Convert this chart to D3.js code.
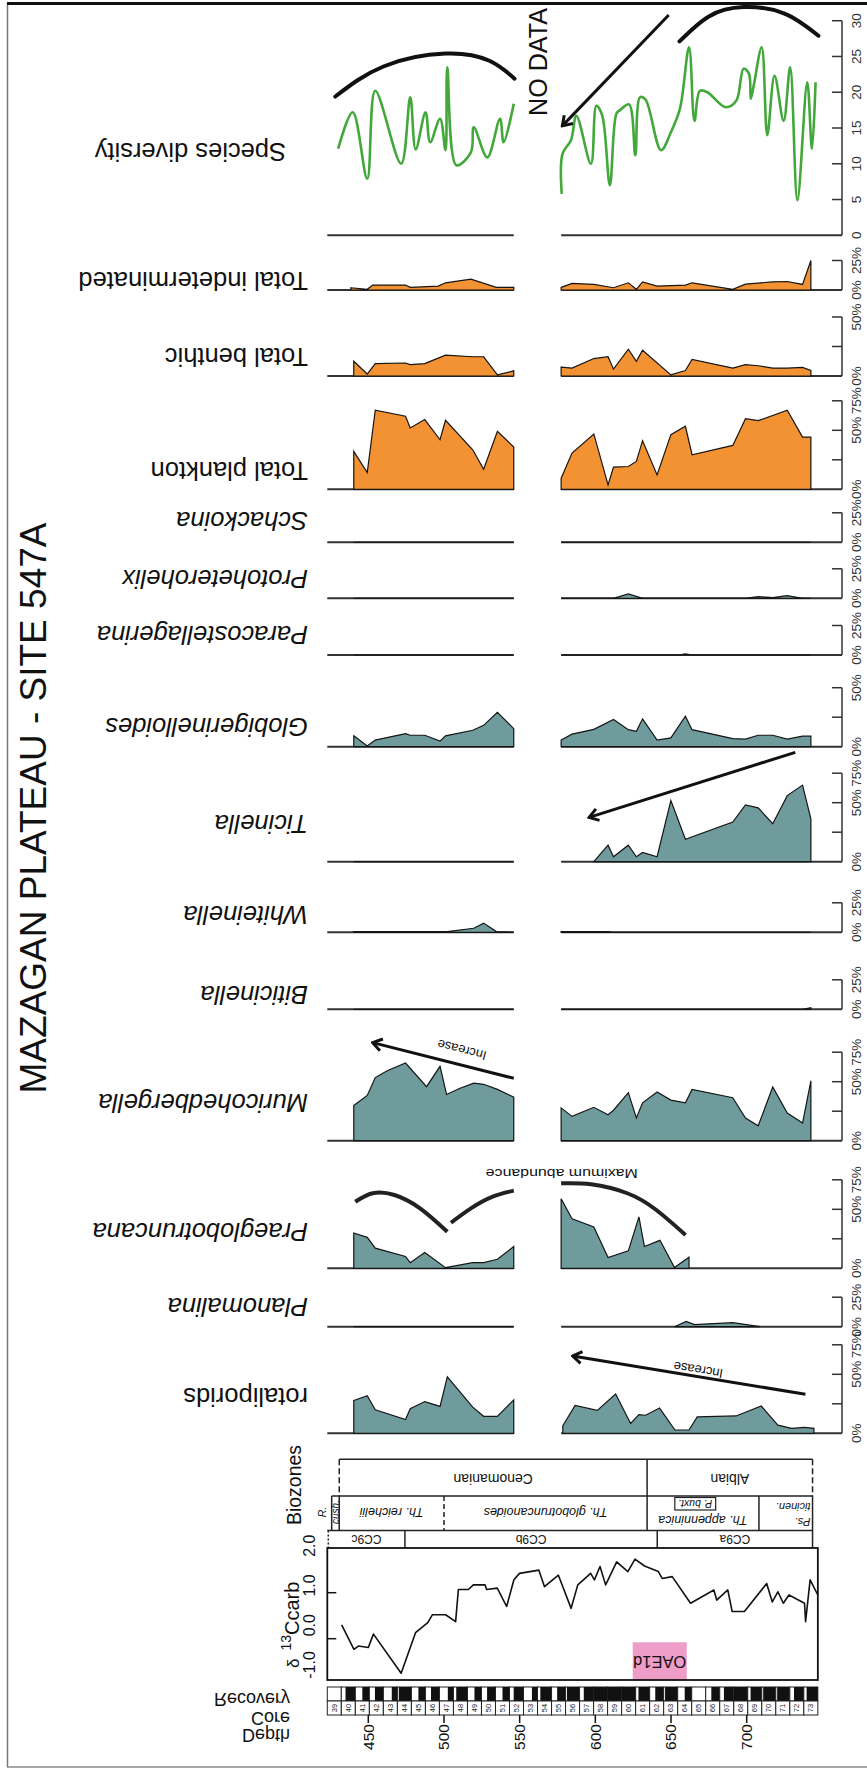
<!DOCTYPE html>
<html>
<head>
<meta charset="utf-8">
<script src="https://cdn.jsdelivr.net/npm/d3@7"></script>
<style>
  html, body { margin: 0; padding: 0; background: #fff; }
  svg { display: block; font-family: "Liberation Sans", Arial, Helvetica, sans-serif; }
</style>
</head>
<body>
<svg id="chart" width="867" height="1769"></svg>
<script>
// ---------- Depth samples (m) and values ----------
const depthTicks = [450, 500, 550, 600, 650, 700];

// species counts
const speciesLeft = [[430.1,12.1],[439.7,17.2],[449.3,7.9],[454.6,20.2],[471.7,10.0],[477.7,19.3],[481.3,12.0],[487.8,17.2],[490.9,13.0],[497.4,16.3],[501.0,11.9],[502.2,23.5],[508.2,9.8],[517.8,11.6],[519.7,15.1],[528.6,10.9],[537.0,16.3],[539.4,13.0],[546.1,18.4]];
const speciesRight = [[577.8,5.8],[578.3,11.4],[583.9,13.3],[587.5,16.7],[597.1,10.0],[600.7,18.1],[604.5,16.8],[609.6,7.0],[613.9,17.0],[616.3,17.5],[622.3,18.3],[626.4,11.2],[629.5,19.3],[633.1,19.0],[643.4,11.9],[649.9,14.4],[655.9,17.7],[661.9,26.3],[665.5,16.0],[669.1,20.2],[674.0,20.0],[686.0,17.9],[693.1,18.8],[697.9,23.3],[701.5,22.6],[702.7,19.1],[704.7,21.0],[709.9,26.3],[713.6,14.0],[718.4,22.3],[724.4,16.0],[728.7,23.5],[733.5,4.9],[740.0,21.4],[743.1,12.1],[745.5,21.4]];

// percentages
const indetLeft = [[438.5,1.9],[449.3,0.6],[452.9,4.2],[474.6,4.2],[477.7,2.2],[496.2,3.3],[501.0,6.1],[517.8,9.2],[534.6,2.2],[546.1,2.2]];
const indetRight = [[577.4,2.2],[584.6,5.6],[599.0,4.7],[612.0,1.9],[621.8,6.1],[627.1,0.6],[631.2,6.9],[640.8,3.3],[659.5,4.2],[663.9,6.1],[690.8,0.6],[699.2,5.0],[717.2,6.9],[726.8,7.2],[736.9,4.7],[742.4,25.0]];

const benthicLeft = [[440.4,12.5],[449.3,1.7],[454.6,10.5],[474.6,11.0],[477.7,9.6],[487.3,10.5],[501.0,17.7],[519.0,16.3],[526.2,16.3],[535.3,0.9],[546.1,4.4]];
const benthicRight = [[577.4,7.6],[584.6,6.7],[599.0,14.8],[608.4,16.3],[612.0,5.8],[621.8,22.7],[627.1,12.5],[631.2,21.8],[649.9,0.9],[659.5,4.7],[663.9,14.0],[690.8,6.7],[699.2,9.6],[707.6,8.7],[717.2,6.7],[726.8,6.7],[736.9,7.3],[742.4,4.7]];

const planktonLeft = [[440.4,32.1],[449.3,14.2],[454.6,67.0],[474.6,61.9],[477.7,52.0],[487.3,59.1],[497.4,42.0],[501.0,58.5],[519.0,33.5],[526.2,17.0],[535.3,49.1],[546.1,35.8]];
const planktonRight = [[577.4,9.4],[584.6,30.7],[599.0,46.9],[608.4,3.7],[612.0,18.8],[621.8,19.3],[627.1,23.6],[631.2,41.2],[640.8,12.2],[649.9,46.3],[659.5,53.4],[663.9,29.3],[690.8,37.2],[699.2,59.9],[707.6,58.2],[726.8,67.0],[736.9,44.3],[742.4,44.3]];

const schackoinaLeft = [[440.4,0],[546.1,0]];
const schackoinaRight = [[577.4,0],[742.4,0]];

const protoLeft = [[440.4,0],[546.1,0]];
const protoRight = [[577.4,0],[612.0,0],[621.8,3.7],[631.2,0],[699.2,0],[707.6,1.4],[717.2,0.6],[726.8,2.3],[736.9,0],[742.4,0]];

const paracostLeft = [[440.4,0],[546.1,0]];
const paracostRight = [[577.4,0],[655.0,0],[659.5,1.0],[664.0,0],[742.4,0]];

const globigLeft = [[440.4,9.2],[449.3,0.6],[454.6,5.6],[474.6,11.1],[477.7,9.7],[487.3,9.7],[497.4,4.7],[501.0,9.2],[519.0,13.9],[526.2,18.1],[535.3,29.2],[546.1,15.3]];
const globigRight = [[577.4,5.6],[584.6,10.6],[599.0,14.7],[612.0,23.1],[621.8,14.4],[627.1,13.1],[631.2,23.6],[640.8,5.6],[649.9,7.5],[659.5,25.8],[663.9,14.4],[690.8,6.9],[699.2,6.4],[707.6,9.7],[717.2,9.7],[726.8,6.4],[736.9,8.9],[742.4,8.9]];

const ticinellaLeft = [[440.4,0],[546.1,0]];
const ticinellaRight = [[599.0,0],[608.4,14.0],[612.0,4.2],[621.8,14.0],[627.1,4.2],[631.2,7.8],[640.8,4.2],[649.9,51.8],[659.5,19.0],[690.8,33.6],[699.2,48.1],[707.6,45.6],[717.2,32.2],[726.8,56.0],[736.9,64.9],[742.4,36.4]];

const whiteLeft = [[440.4,0.5],[502.2,0.6],[519.7,3.4],[526.2,7.8],[534.6,0.6],[546.1,0]];
const whiteRight = [[577.4,0.6],[609.1,0.5],[611.0,0],[742.4,0]];

const biticLeft = [[440.4,0],[546.1,0]];
const biticRight = [[577.4,0],[736.9,0],[742.4,1.4]];

const muricoLeft = [[440.4,29.8],[449.3,38.4],[454.6,53.5],[462.5,59.3],[474.6,65.8],[488.5,45.8],[497.4,63.0],[501.7,39.2],[510.6,44.4],[519.7,48.7],[526.2,47.8],[535.3,43.5],[546.1,36.9]];
const muricoRight = [[577.4,27.8],[584.6,20.6],[599.0,28.3],[608.4,22.0],[612.0,25.8],[621.8,40.7],[627.1,19.2],[631.2,32.1],[640.8,41.2],[649.9,34.4],[659.5,32.1],[663.9,43.5],[690.8,36.4],[699.2,19.2],[707.6,12.6],[717.2,45.5],[726.8,23.5],[736.9,14.9],[742.4,50.7]];

const praeglobLeft = [[440.4,29.9],[449.3,26.2],[454.6,17.1],[474.6,10.0],[477.7,4.8],[487.3,13.4],[501.0,0.5],[519.0,4.8],[526.2,4.8],[535.3,7.7],[546.1,18.5]];
const praeglobRight = [[577.4,59.0],[584.6,41.9],[599.0,35.1],[608.4,9.1],[621.8,14.8],[628.8,43.6],[632.4,18.5],[642.7,23.7],[652.3,0.6],[661.9,9.4]];

const planomLeft = [[440.4,0],[546.1,0]];
const planomRight = [[652.3,0],[660.0,4.5],[665.5,1.8],[690.8,3.4],[708.8,0]];

const rotalLeft = [[440.4,27.8],[449.3,31.9],[454.6,20.0],[474.6,11.7],[477.7,20.8],[487.3,26.9],[497.4,22.8],[502.2,47.8],[519.0,22.2],[526.2,14.4],[535.3,14.4],[546.1,28.3]];
const rotalRight = [[578.5,6.4],[586.6,23.6],[601.3,19.4],[613.4,33.3],[623.3,8.3],[628.8,15.8],[633.2,15.3],[642.4,21.4],[652.6,2.8],[661.9,2.8],[667.3,13.9],[693.0,14.7],[709.6,23.1],[720.6,6.9],[729.7,4.2],[738.2,5.0],[744.4,4.2]];

// carbon isotopes (per mil)
const d13c = [[432.4,0.30],[440.5,-0.23],[443.4,-0.16],[450.0,-0.19],[453.4,0.10],[471.7,-0.75],[481.2,0.13],[489.3,0.35],[492.3,0.52],[501.1,0.52],[507.7,0.37],[509.5,1.07],[516.1,1.07],[519.4,1.17],[527.1,1.17],[528.2,1.07],[535.2,1.10],[541.4,0.70],[546.2,1.28],[549.9,1.42],[562.7,1.49],[566.4,1.13],[575.6,1.38],[584.0,0.66],[588.4,1.17],[596.9,1.42],[599.4,1.28],[603.1,1.57],[606.8,1.17],[614.1,1.67],[621.5,1.46],[626.2,1.73],[632.5,1.58],[641.6,1.46],[644.2,1.31],[650.8,1.35],[662.9,0.77],[678.3,1.06],[680.2,0.84],[687.5,1.06],[690.4,0.59],[698.5,0.59],[713.2,1.20],[716.9,0.80],[720.6,1.02],[724.2,0.77],[727.9,0.95],[738.2,0.77],[738.9,0.37],[741.9,1.28],[747.0,0.95]];
const d13cTicks = [-1, 0, 1, 2];

// cores and recovered fraction of each core
const coreNumbers = d3.range(39, 74);
const coreRecovery = [0.0,0.7,0.5,0.6,0.4,0.9,0.5,0.6,0.4,0.8,0.5,0.6,0.5,0.7,0.4,0.8,0.6,0.9,0.7,1.0,1.0,1.0,0.8,0.6,0.9,0.5,0.0,0.6,0.7,1.0,0.8,0.9,0.9,0.7,0.8];

// stratigraphic intervals (m)
const stages = [{name:"Cenomanian", top:430.8, base:634.2}, {name:"Albian", top:634.2, base:743.5}];
const zones = [{name:"Th. reichelii", top:430.8, base:500.0}, {name:"Th. globotruncanoides", top:500.0, base:634.2}, {name:"Th. appenninica", top:634.2, base:708.1}, {name:"ticinen.", top:708.1, base:743.5}];
const nannoZones = [{name:"CC9c", top:423.4, base:474.2}, {name:"CC9b", top:474.2, base:640.9}, {name:"CC9a", top:640.9, base:743.5}];
const oae = {name:"OAE1d", top:624.7, base:660.4};

// ---------- layout ----------
const svg = d3.select("#chart");
const x = d3.scaleLinear().domain([450, 700]).range([368.3, 746.7]);
const plotX0 = 327.3, gapX0 = x(546.1), gapX1 = x(577.4), axisX = 842;
const pctPx = 29.5 / 25;
const teal = "#6f9b9d", orange = "#f29232", green = "#42a83a";

const rows = [
  {name:"Species diversity", left:speciesLeft, right:speciesRight, line:true, max:30, ticks:[0,5,10,15,20,25,30], unit:"", base:235.3, ppu:7.153, labelY:152, labelX:286},
  {name:"Total indeterminated", left:indetLeft, right:indetRight, fill:orange, max:25, base:290, labelY:281},
  {name:"Total benthic", left:benthicLeft, right:benthicRight, fill:orange, max:50, base:376, labelY:357},
  {name:"Total plankton", left:planktonLeft, right:planktonRight, fill:orange, max:75, base:489.3, labelY:471},
  {name:"Schackoina", left:schackoinaLeft, right:schackoinaRight, fill:teal, max:25, base:542.3, labelY:521, italic:true},
  {name:"Protoheterohelix", left:protoLeft, right:protoRight, fill:teal, max:25, base:598.3, labelY:579, italic:true},
  {name:"Paracostellagerina", left:paracostLeft, right:paracostRight, fill:teal, max:25, base:655, labelY:635, italic:true},
  {name:"Globigerinelloides", left:globigLeft, right:globigRight, fill:teal, max:50, base:746.7, labelY:727, italic:true},
  {name:"Ticinella", left:ticinellaLeft, right:ticinellaRight, fill:teal, max:75, base:861.7, labelY:824, italic:true},
  {name:"Whiteinella", left:whiteLeft, right:whiteRight, fill:teal, max:25, base:932.3, labelY:915, italic:true},
  {name:"Biticinella", left:biticLeft, right:biticRight, fill:teal, max:25, base:1009.3, labelY:995, italic:true},
  {name:"Muricohedbergella", left:muricoLeft, right:muricoRight, fill:teal, max:75, base:1140.7, labelY:1103, italic:true},
  {name:"Praeglobotruncana", left:praeglobLeft, right:praeglobRight, fill:teal, max:75, base:1268.3, labelY:1232, italic:true},
  {name:"Planomalina", left:planomLeft, right:planomRight, fill:teal, max:25, base:1326.7, labelY:1307, italic:true},
  {name:"rotaliporids", left:rotalLeft, right:rotalRight, fill:teal, max:75, base:1433.3, labelY:1397}
];
rows.forEach(r => {
  const ppu = r.ppu || pctPx;
  r.y = d3.scaleLinear().domain([0, r.max]).range([r.base, r.base - r.max * ppu]);
  if (!r.ticks) r.ticks = r.max === 25 ? [0,25] : r.max === 50 ? [0,50] : [0,50,75];
  if (r.unit === undefined) r.unit = "%";
});
const byName = n => rows.find(r => r.name === n);

// ---------- frame ----------
svg.append("line").attr("x1", 7.5).attr("x2", 7.5).attr("y1", 3).attr("y2", 1767).attr("stroke", "#777").attr("stroke-width", 1.5);
svg.append("line").attr("x1", 7).attr("x2", 867).attr("y1", 3.5).attr("y2", 3.5).attr("stroke", "#111").attr("stroke-width", 3);
svg.append("line").attr("x1", 7).attr("x2", 867).attr("y1", 1767).attr("y2", 1767).attr("stroke", "#888").attr("stroke-width", 1.5);

// title
svg.append("text").attr("transform", "translate(33,808) rotate(-90)")
  .attr("text-anchor", "middle").attr("dy", "0.35em")
  .style("font-size", "37px").attr("fill", "#111")
  .text("MAZAGAN PLATEAU - SITE 547A");

// arrow marker
const defs = svg.append("defs");
defs.append("marker").attr("id", "chev").attr("viewBox", "-12 -8 14 16")
  .attr("refX", 0).attr("refY", 0).attr("markerWidth", 14).attr("markerHeight", 16)
  .attr("markerUnits", "userSpaceOnUse").attr("orient", "auto")
  .append("path").attr("d", "M-9,-6 L0,0 L-9,6").attr("fill", "none")
  .attr("stroke", "#111").attr("stroke-width", 3).attr("stroke-linejoin", "miter");

// ---------- panels ----------
const g = svg.append("g");
rows.forEach(r => {
  // baselines
  g.append("line").attr("x1", plotX0).attr("x2", gapX0).attr("y1", r.base).attr("y2", r.base)
    .attr("stroke", "#333").attr("stroke-width", 2);
  g.append("line").attr("x1", gapX1).attr("x2", axisX).attr("y1", r.base).attr("y2", r.base)
    .attr("stroke", "#333").attr("stroke-width", 2);

  [r.left, r.right].forEach(seg => {
    if (r.line) {
      g.append("path").datum(seg)
        .attr("d", d3.line().x(d => x(d[0])).y(d => r.y(d[1])).curve(d3.curveCatmullRom.alpha(0.5)))
        .attr("fill", "none").attr("stroke", green).attr("stroke-width", 2.6).attr("stroke-linejoin", "round");
    } else {
      g.append("path").datum(seg)
        .attr("d", d3.area().x(d => x(d[0])).y0(r.base).y1(d => r.y(d[1])))
        .attr("fill", r.fill).attr("stroke", "#151515").attr("stroke-width", 1.2).attr("stroke-linejoin", "miter");
    }
  });

  // right-hand value axis
  const yTop = r.y(r.max);
  g.append("line").attr("x1", axisX).attr("x2", axisX).attr("y1", yTop).attr("y2", r.base)
    .attr("stroke", "#333").attr("stroke-width", 1.5);
  const step = r.line ? 5 : 25;
  d3.range(step, r.max + 0.01, step).forEach(v => {
    g.append("line").attr("x1", axisX - 10).attr("x2", axisX).attr("y1", r.y(v)).attr("y2", r.y(v))
      .attr("stroke", "#333").attr("stroke-width", 1.5);
  });
  r.ticks.forEach(v => {
    g.append("text").attr("transform", `translate(856,${r.y(v)}) rotate(-90)`)
      .attr("text-anchor", "middle").attr("dy", "0.35em")
      .style("font-size", "13.5px").attr("fill", "#333")
      .text(v + r.unit);
  });

  // row label (upside down)
  g.append("text").attr("transform", `translate(${r.labelX || 308},${r.labelY}) rotate(180)`)
    .attr("text-anchor", "start").attr("dy", "0.35em")
    .style("font-size", "25.5px").style("font-style", r.italic ? "italic" : "normal")
    .attr("fill", "#111").text(r.name);
});

// ---------- annotations ----------
const arcLine = (r) => d3.line().x(d => x(d[0])).y(d => r.y(d[1])).curve(d3.curveNatural);
const spR = byName("Species diversity");
[[[428.2,19.4],[460,23.6],[501,25.4],[530,24.4],[546.6,21.9]],
 [[655.6,27.1],[675,30.6],[698,31.9],[725,31.0],[747.4,27.9]]].forEach(a => {
  g.append("path").datum(a).attr("d", arcLine(spR)).attr("fill", "none").attr("stroke", "#111").attr("stroke-width", 4).attr("stroke-linecap", "round");
});
const arrow = (r, from, to) => g.append("line")
  .attr("x1", x(from[0])).attr("y1", r.y(from[1])).attr("x2", x(to[0])).attr("y2", r.y(to[1]))
  .attr("stroke", "#111").attr("stroke-width", 3).attr("marker-end", "url(#chev)");
arrow(spR, [648.5, 30.8], [578.2, 15.3]);
g.append("text").attr("transform", `translate(538,62) rotate(-90)`)
  .attr("text-anchor", "middle").attr("dy", "0.35em").style("font-size", "26px").attr("fill", "#111")
  .attr("textLength", 108).attr("lengthAdjust", "spacingAndGlyphs").text("NO DATA");

arrow(byName("Ticinella"), [732.1, 92.7], [595.9, 37.6]);

const incr = (r, from, to, at) => {
  arrow(r, from, to);
  const ang = Math.atan2(r.y(to[1]) - r.y(from[1]), x(to[0]) - x(from[0])) * 180 / Math.PI;
  g.append("text").attr("transform", `translate(${x(at[0])},${r.y(at[1])}) rotate(${ang})`)
    .attr("text-anchor", "middle").attr("dy", "0.35em").style("font-size", "13px").attr("fill", "#111").text("Increase");
};
incr(byName("Muricohedbergella"), [546.1, 52.9], [452.9, 83.1], [511.8, 76.9]);
incr(byName("rotaliporids"), [738.8, 33.1], [585.0, 65.5], [668.0, 53.6]);

const prR = byName("Praeglobotruncana");
[[[441.4,56.4],[452.9,63.6],[467.3,62.1],[484.2,50.8],[502.2,31.0]],
 [[504.6,38.6],[517.8,50.8],[532.2,60.7],[546.1,65.8]],
 [[577.4,72.0],[597.1,71.2],[621.1,63.6],[640.3,49.4],[659.6,28.2]]].forEach(a => {
  g.append("path").datum(a).attr("d", arcLine(prR)).attr("fill", "none").attr("stroke", "#222").attr("stroke-width", 4);
});
g.append("text").attr("transform", `translate(${x(577.8)},${prR.y(80.5)}) rotate(180)`)
  .attr("text-anchor", "middle").attr("dy", "0.35em").style("font-size", "13px").attr("fill", "#111")
  .attr("textLength", 152).attr("lengthAdjust", "spacingAndGlyphs").text("Maximum abundance");

// ---------- biozones ----------
const bz = svg.append("g").attr("stroke", "#222").attr("stroke-width", 1.5);
const yStageTop = 1459.3, yZoneTop = 1496, yCCTop = 1530.5, yBoxTop = 1548, yBoxBot = 1680;
const zRight = x(743.5), zLeft = x(430.8), rcLeft = x(425.8);
bz.append("line").attr("x1", zLeft).attr("x2", zRight).attr("y1", yStageTop).attr("y2", yStageTop);
bz.append("line").attr("x1", zLeft).attr("x2", zRight).attr("y1", yZoneTop).attr("y2", yZoneTop);
bz.append("line").attr("x1", rcLeft).attr("x2", zLeft).attr("y1", yZoneTop).attr("y2", yZoneTop);
bz.append("line").attr("x1", plotX0).attr("x2", zRight).attr("y1", yCCTop).attr("y2", yCCTop);
// stage boundaries
bz.append("line").attr("x1", zLeft).attr("x2", zLeft).attr("y1", yStageTop).attr("y2", yZoneTop).attr("stroke-dasharray", "6,3");
bz.append("line").attr("x1", zRight).attr("x2", zRight).attr("y1", yStageTop).attr("y2", yZoneTop).attr("stroke-dasharray", "6,3");
bz.append("line").attr("x1", x(634.2)).attr("x2", x(634.2)).attr("y1", yStageTop).attr("y2", yCCTop);
// zone boundaries
bz.append("line").attr("x1", rcLeft).attr("x2", rcLeft).attr("y1", yZoneTop).attr("y2", yCCTop);
bz.append("line").attr("x1", zLeft).attr("x2", zLeft).attr("y1", yZoneTop).attr("y2", yCCTop);
bz.append("line").attr("x1", x(500)).attr("x2", x(500)).attr("y1", yZoneTop).attr("y2", yCCTop).attr("stroke-dasharray", "5,3");
bz.append("line").attr("x1", x(708.1)).attr("x2", x(708.1)).attr("y1", yZoneTop).attr("y2", yCCTop);
bz.append("line").attr("x1", zRight).attr("x2", zRight).attr("y1", yZoneTop).attr("y2", yBoxTop);
// nannofossil boundaries
bz.append("line").attr("x1", plotX0 + 1).attr("x2", plotX0 + 1).attr("y1", yCCTop).attr("y2", yBoxTop).attr("stroke-dasharray", "2,2");
nannoZones.slice(1).forEach(z => bz.append("line").attr("x1", x(z.top)).attr("x2", x(z.top)).attr("y1", yCCTop).attr("y2", yBoxTop));

const flipText = (cx, cy, txt, size, italic) => svg.append("text")
  .attr("transform", `translate(${cx},${cy}) rotate(180)`).attr("text-anchor", "middle").attr("dy", "0.35em")
  .style("font-size", size + "px").style("font-style", italic ? "italic" : "normal").attr("fill", "#111").text(txt);
stages.forEach(s => flipText(x((s.top + s.base) / 2), 1479, s.name, 14));
flipText(x(465.4), 1512, zones[0].name, 12.5, true);
flipText(x(567.1), 1512, zones[1].name, 12.5, true);
flipText(x(671), 1520.5, zones[2].name, 12.5, true);
// P. buxt. box
bz.append("rect").attr("x", x(652.5)).attr("y", 1497.5).attr("width", x(679.5) - x(652.5)).attr("height", 12.5).attr("fill", "none").attr("stroke-width", 1.2);
flipText(x(666), 1504, "P. buxt.", 10.5, true);
svg.append("text").attr("transform", `translate(${x(742.2)},1506.5) rotate(180)`).attr("dy", "0.35em")
  .style("font-size", "11px").style("font-style", "italic").attr("fill", "#111").text(zones[3].name);
svg.append("text").attr("transform", `translate(${x(742.2)},1521.5) rotate(180)`).attr("dy", "0.35em")
  .style("font-size", "11px").style("font-style", "italic").attr("fill", "#111").text("Ps.");
// R. cush.
svg.append("text").attr("transform", `translate(322,1512) rotate(-90)`).attr("text-anchor", "middle").attr("dy", "0.35em")
  .style("font-size", "10.5px").style("font-style", "italic").attr("fill", "#111").text("R.");
svg.append("text").attr("transform", `translate(${(rcLeft + zLeft) / 2},1512) rotate(-90)`).attr("text-anchor", "middle").attr("dy", "0.35em")
  .style("font-size", "10px").style("font-style", "italic").attr("fill", "#111").text("cush.");
nannoZones.forEach(z => flipText(x((z.top + z.base) / 2), 1539.3, z.name, 12, false));

svg.append("text").attr("transform", "translate(294,1485) rotate(-90)").attr("text-anchor", "middle").attr("dy", "0.35em")
  .style("font-size", "19.5px").attr("fill", "#111").text("Biozones");

// ---------- carbon isotope panel ----------
const yd = d3.scaleLinear().domain([0, 1]).range([1638.7, 1592.7]);
const ydLabel = d3.scaleLinear().domain([-1, 2]).range([1665, 1545.7]);
const boxRight = x(747);
svg.append("rect").attr("x", x(oae.top)).attr("y", 1642.3).attr("width", x(oae.base) - x(oae.top)).attr("height", yBoxBot - 1642.3).attr("fill", "#ee9dc9");
flipText(x((oae.top + oae.base) / 2), 1662, oae.name, 16.5, false);
svg.append("rect").attr("x", plotX0).attr("y", yBoxTop).attr("width", boxRight - plotX0).attr("height", yBoxBot - yBoxTop)
  .attr("fill", "none").attr("stroke", "#111").attr("stroke-width", 1.8);
svg.append("path").datum(d13c).attr("d", d3.line().x(d => x(d[0])).y(d => yd(d[1])))
  .attr("fill", "none").attr("stroke", "#111").attr("stroke-width", 1.6).attr("stroke-linejoin", "round");
[0, 1].forEach(v => svg.append("line").attr("x1", plotX0).attr("x2", plotX0 + 9).attr("y1", yd(v)).attr("y2", yd(v)).attr("stroke", "#111").attr("stroke-width", 1.5));
d13cTicks.forEach(v => svg.append("text").attr("transform", `translate(309,${ydLabel(v)}) rotate(-90)`)
  .attr("text-anchor", "middle").attr("dy", "0.35em").style("font-size", "16px").attr("fill", "#111").text(v.toFixed(1)));
const dl = svg.append("text").attr("transform", "translate(299,1668) rotate(-90)").attr("fill", "#111");
dl.append("tspan").style("font-size", "17px").text("δ");
dl.append("tspan").attr("dx", 8).attr("dy", -8).style("font-size", "14px").text("13");
dl.append("tspan").attr("dy", 8).style("font-size", "20px").text("Ccarb");

// ---------- core recovery ----------
const cores = d3.scaleBand().domain(coreNumbers).range([plotX0, boxRight]);
const yCoreTop = 1687, yCoreMid = 1701, yCoreBot = 1715;
coreNumbers.forEach((c, i) => {
  const cx = cores(c), w = cores.bandwidth();
  svg.append("rect").attr("x", cx).attr("y", yCoreTop).attr("width", w).attr("height", yCoreMid - yCoreTop).attr("fill", "#fff").attr("stroke", "#222").attr("stroke-width", 1);
  svg.append("rect").attr("x", cx + w * (1 - coreRecovery[i])).attr("y", yCoreTop).attr("width", w * coreRecovery[i]).attr("height", yCoreMid - yCoreTop).attr("fill", "#111");
  svg.append("rect").attr("x", cx).attr("y", yCoreMid).attr("width", w).attr("height", yCoreBot - yCoreMid).attr("fill", "#fff").attr("stroke", "#222").attr("stroke-width", 1);
  svg.append("text").attr("transform", `translate(${cx + w / 2},${(yCoreMid + yCoreBot) / 2}) rotate(-90)`)
    .attr("text-anchor", "middle").attr("dy", "0.35em").style("font-size", "7.5px").attr("fill", "#222").text(c);
});

// depth axis
depthTicks.forEach(d => {
  svg.append("line").attr("x1", x(d)).attr("x2", x(d)).attr("y1", yCoreBot).attr("y2", 1723).attr("stroke", "#111").attr("stroke-width", 1.5);
  svg.append("text").attr("transform", `translate(${x(d)},1737) rotate(-90)`).attr("text-anchor", "middle").attr("dy", "0.35em")
    .style("font-size", "15.5px").attr("fill", "#111").text(d);
});
const dcr = svg.append("g").attr("transform", "translate(290,0) scale(1,-1)").attr("text-anchor", "end").style("font-size", "18px").attr("fill", "#111");
dcr.append("text").attr("y", -1729).text("Depth");
dcr.append("text").attr("y", -1712).text("Core");
dcr.append("text").attr("y", -1693).text("Recovery");
</script>
</body>
</html>
